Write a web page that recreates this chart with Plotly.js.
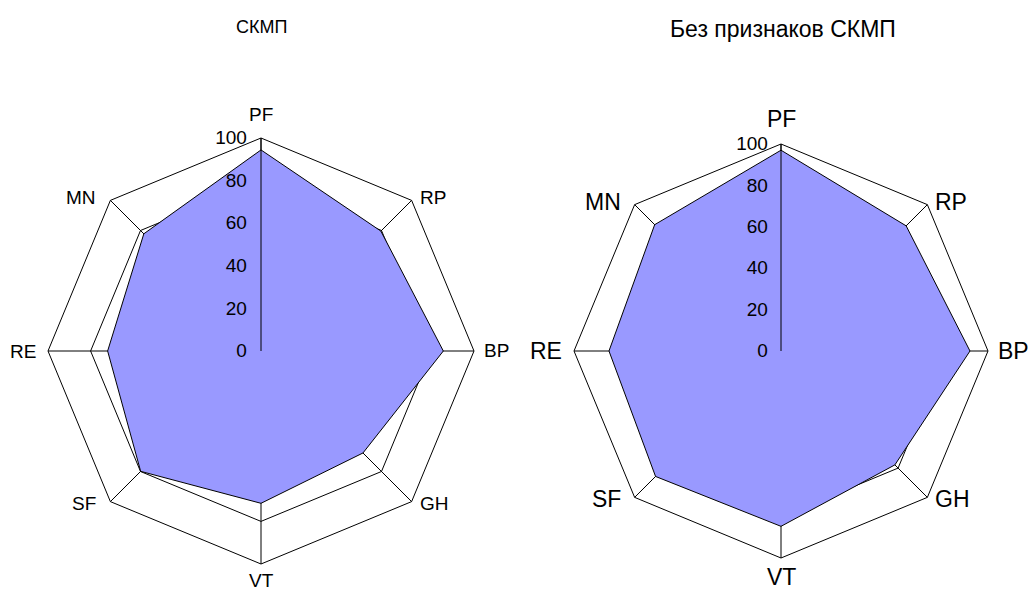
<!DOCTYPE html>
<html>
<head>
<meta charset="utf-8">
<script src="https://cdn.plot.ly/plotly-3.0.1.min.js"></script>
<style>html,body{margin:0;padding:0;background:#fff;}#chart{width:1029px;height:590px;}</style>
</head>
<body>
<div id="chart"></div>
<script>
const categories = ['PF', 'RP', 'BP', 'GH', 'VT', 'SF', 'RE', 'MN'];
const valuesSKMP = [94.4, 79.6, 85.6, 67.7, 71.5, 79.9, 72.0, 77.8];
const valuesNoSKMP = [97.0, 85.5, 91.3, 77.8, 84.7, 85.7, 83.1, 86.3];
const norm = [80, 80, 80, 80, 80, 80, 80, 80];
const radialTicks = [0, 20, 40, 60, 80, 100];
const titleLeft = 'СКМП';
const titleRight = 'Без признаков СКМП';

const W = 1029, H = 590;
const FONT = 'Liberation Sans, Arial, sans-serif';
function closeArr(a) { return a.concat([a[0]]); }

function traces(vals, subplot) {
  return [
    {type: 'scatterpolar', subplot: subplot, r: closeArr(norm), theta: closeArr(categories),
     mode: 'lines', line: {color: '#000', width: 1}, hoverinfo: 'skip', showlegend: false},
    {type: 'scatterpolar', subplot: subplot, r: closeArr(vals), theta: closeArr(categories),
     mode: 'lines', fill: 'toself', fillcolor: '#9999FF', line: {color: '#000', width: 1},
     showlegend: false}
  ];
}

function polarCfg(cx, cy, R, tickSize, tickPad) {
  return {
    domain: {x: [(cx - R) / W, (cx + R) / W], y: [1 - (cy + R) / H, 1 - (cy - R) / H]},
    gridshape: 'linear',
    bgcolor: 'rgba(0,0,0,0)',
    radialaxis: {
      range: [0, 100], tickvals: radialTicks, ticktext: radialTicks.map(String),
      angle: 90, tickangle: 90, side: 'counterclockwise', showgrid: false,
      showline: true, linecolor: '#000', linewidth: 1,
      ticks: 'outside', ticklen: tickPad, tickcolor: 'rgba(0,0,0,0)',
      tickfont: {family: FONT, size: tickSize, color: '#000'},
      layer: 'above traces'
    },
    angularaxis: {
      type: 'category', categoryarray: categories, direction: 'clockwise', rotation: 90,
      showgrid: true, gridcolor: '#000', gridwidth: 1,
      showline: true, linecolor: '#000', linewidth: 1,
      ticks: '', showticklabels: false,
      layer: 'above traces'
    }
  };
}

// category labels placed around each polygon vertex
function categoryLabels(cx, cy, R, size, vgapTop, vgapBottom) {
  const n = categories.length;
  return categories.map((c, i) => {
    const a = 2 * Math.PI * i / n;
    const s = Math.sin(a), co = Math.cos(a);
    const vx = cx + R * s, vy = cy - R * co;
    let xanchor = 'center', yanchor = 'middle', xs = 0, ys = 0;
    if (s > 0.1) { xanchor = 'left'; xs = (Math.abs(co) < 0.1) ? 8 : 6; }
    else if (s < -0.1) { xanchor = 'right'; xs = (Math.abs(co) < 0.1) ? -10 : -12; }
    if (Math.abs(s) < 0.1) { ys = co > 0 ? vgapTop : -vgapBottom; }
    else if (Math.abs(co) > 0.1) { ys = co > 0 ? 3 : -2; }
    return {text: c, x: vx / W, y: 1 - vy / H, xref: 'paper', yref: 'paper',
      xanchor: xanchor, yanchor: yanchor, xshift: xs, yshift: ys, showarrow: false,
      font: {family: FONT, size: size, color: '#000'}};
  });
}

const data = traces(valuesSKMP, 'polar').concat(traces(valuesNoSKMP, 'polar2'));

const layout = {
  width: W, height: H,
  margin: {l: 0, r: 0, t: 0, b: 0},
  paper_bgcolor: '#fff',
  showlegend: false,
  font: {family: FONT, color: '#000'},
  polar: polarCfg(261, 351, 213, 19, 7),
  polar2: polarCfg(781, 351, 207, 19, 6),
  annotations: [
    {text: titleLeft, x: 261 / W, y: 1 - 27 / H, xref: 'paper', yref: 'paper',
     xanchor: 'center', yanchor: 'middle', showarrow: false, font: {family: FONT, size: 18, color: '#000'}},
    {text: titleRight, x: 783 / W, y: 1 - 29 / H, xref: 'paper', yref: 'paper',
     xanchor: 'center', yanchor: 'middle', showarrow: false, font: {family: FONT, size: 23, color: '#000'}}
  ].concat(categoryLabels(261, 351, 213, 19, 24, 16), categoryLabels(781, 351, 207, 23, 25, 19))
};

Plotly.newPlot('chart', data, layout, {displayModeBar: false, staticPlot: true});
</script>
</body>
</html>
